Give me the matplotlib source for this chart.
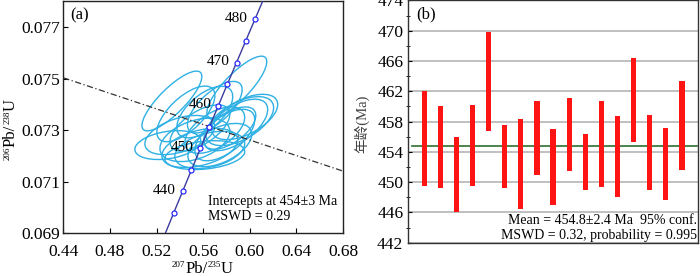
import numpy as np
import matplotlib
matplotlib.use('Agg')
import matplotlib.pyplot as plt
from matplotlib.patches import Ellipse
import matplotlib.transforms as transforms
from matplotlib.ticker import MultipleLocator

plt.rcParams['font.family'] = ['Liberation Serif', 'Noto Sans CJK SC']
plt.rcParams['mathtext.fontset'] = 'custom'
plt.rcParams['mathtext.rm'] = 'Liberation Serif'

# ---------------- data: panel (a) ----------------
lambda238 = 1.55125e-10
lambda235 = 9.8485e-10
concordia_age_range = (425, 495)          # Ma
marker_ages = [435, 440, 445, 450, 455, 460, 465, 470, 475, 480]
label_ages = [440, 450, 460, 470, 480]

discordia_x = [0.44, 0.68]
discordia_y = [0.07504, 0.07142]

ell_x = [0.5332, 0.5889, 0.5957, 0.5914, 0.5880, 0.5452, 0.5614, 0.5400, 0.5297,
         0.5529, 0.5572, 0.5657, 0.5743, 0.5700, 0.5786, 0.5572, 0.5829, 0.5614, 0.5700]
ell_y = [0.07414, 0.07468, 0.07352, 0.07336, 0.07321, 0.07364, 0.07371, 0.07282, 0.07243,
         0.07263, 0.07232, 0.07224, 0.07243, 0.07301, 0.07282, 0.07309, 0.07309, 0.07204, 0.07390]
ell_sx = [0.0257, 0.0257, 0.0283, 0.0291, 0.0274, 0.0249, 0.0240, 0.0300, 0.0283,
          0.0300, 0.0326, 0.0300, 0.0274, 0.0257, 0.0257, 0.0257, 0.0223, 0.0343, 0.0235]
ell_sy = [0.00116, 0.00120, 0.00088, 0.00095, 0.00100, 0.00108, 0.00100, 0.00076, 0.00056,
          0.00084, 0.00076, 0.00072, 0.00084, 0.00090, 0.00100, 0.00090, 0.00082, 0.00056, 0.00100]
ell_rho = [0.82, 0.82, 0.55, 0.55, 0.60, 0.66, 0.60, 0.45, 0.30,
           0.40, 0.40, 0.35, 0.50, 0.55, 0.60, 0.60, 0.60, 0.25, 0.68]

xticks_a = [0.44, 0.48, 0.52, 0.56, 0.60, 0.64, 0.68]
yticks_a = [0.069, 0.071, 0.073, 0.075, 0.077]

# ---------------- data: panel (b) ----------------
bar_low = [449.5, 449.2, 446.0, 449.5, 456.8, 449.2, 446.4, 451.0, 447.0,
           451.5, 449.0, 449.3, 448.0, 455.3, 449.0, 447.6, 451.6]
bar_high = [462.0, 460.1, 455.9, 460.2, 469.8, 457.5, 458.3, 460.7, 457.0,
            461.1, 456.4, 460.7, 458.7, 466.4, 458.9, 457.2, 463.3]
mean_age = 454.8
yticks_b = [442, 446, 450, 454, 458, 462, 466, 470, 474]

# ---------------- figure ----------------
fig = plt.figure(figsize=(7, 2.76), dpi=100)
ax1 = fig.add_axes([0.0904, 0.154, 0.3996, 0.8406])
ax2 = fig.add_axes([0.5829, 0.1207, 0.4143, 0.8775])

# ----- panel (a) -----
ell_color = '#2fb0e4'
for cx, cy, sx, sy, r in zip(ell_x, ell_y, ell_sx, ell_sy, ell_rho):
    e = Ellipse((0, 0), width=2 * np.sqrt(1 + r), height=2 * np.sqrt(1 - r),
                facecolor='none', edgecolor=ell_color, linewidth=1.0, zorder=2)
    tr = transforms.Affine2D().rotate_deg(45).scale(sx, sy).translate(cx, cy)
    e.set_transform(tr + ax1.transData)
    ax1.add_patch(e)

t = np.linspace(concordia_age_range[0], concordia_age_range[1], 300) * 1e6
ax1.plot(np.exp(lambda235 * t) - 1, np.exp(lambda238 * t) - 1,
         color='#3b3b9e', lw=1.0, zorder=3)
tm = np.array(marker_ages) * 1e6
ax1.plot(np.exp(lambda235 * tm) - 1, np.exp(lambda238 * tm) - 1, 'o', ms=3.6,
         mfc='white', mec='#2a2aff', mew=0.9, zorder=4)
for a in label_ages:
    ta = a * 1e6
    ax1.annotate(str(a), (np.exp(lambda235 * ta) - 1, np.exp(lambda238 * ta) - 1),
                 xytext=(-7, 1), textcoords='offset pixels', ha='right', va='center',
                 fontsize=11, zorder=5)

ax1.plot(discordia_x, discordia_y, color='#333333', lw=0.9,
         dashes=(5, 2, 1, 2), zorder=3)

ax1.set_xlim(0.44, 0.68)
ax1.set_ylim(0.069, 0.078)
ax1.set_xticks(xticks_a)
ax1.set_xticklabels([f'{v:.2f}' for v in xticks_a])
ax1.set_yticks(yticks_a)
ax1.set_yticklabels([f'{v:.3f}' for v in yticks_a])
ax1.tick_params(direction='in', length=3.5, labelsize=12.5, width=0.8)
ax1.tick_params(axis='x', pad=7.5)
ax1.tick_params(axis='y', pad=2.5)
for s in ax1.spines.values():
    s.set_linewidth(1.0)
    s.set_color('#222222')

# x label: superscript pieces chained
SUP, MAIN = 6.5, 12
xb_main, xb_sup = -0.1724, -0.1444
p = ax1.text(0.3876, xb_sup, '207', fontsize=SUP, transform=ax1.transAxes,
             ha='left', va='baseline')
p = ax1.annotate('Pb/', xy=(1, xb_main), xycoords=(p, ax1.transAxes), fontsize=MAIN,
                 ha='left', va='baseline')
p = ax1.annotate('235', xy=(1, xb_sup), xycoords=(p, ax1.transAxes), fontsize=SUP,
                 ha='left', va='baseline')
p = ax1.annotate('U', xy=(1, xb_main), xycoords=(p, ax1.transAxes), fontsize=MAIN,
                 ha='left', va='baseline')

# y label: rotated pieces chained upward
yb_main, yb_sup = -0.1727, -0.1906
q = ax1.text(yb_sup, 0.3168, '206', fontsize=SUP, transform=ax1.transAxes,
             rotation=90, rotation_mode='anchor', ha='left', va='baseline')
q = ax1.annotate('Pb/', xy=(yb_main, 1), xycoords=(ax1.transAxes, q), fontsize=MAIN,
                 rotation=90, rotation_mode='anchor', ha='left', va='baseline')
q = ax1.annotate('238', xy=(yb_sup, 1), xycoords=(ax1.transAxes, q), fontsize=SUP,
                 rotation=90, rotation_mode='anchor', ha='left', va='baseline')
q = ax1.annotate('U', xy=(yb_main, 1), xycoords=(ax1.transAxes, q), fontsize=MAIN,
                 rotation=90, rotation_mode='anchor', ha='left', va='baseline')

ax1.text(0.026, 0.942, '(a)', transform=ax1.transAxes, fontsize=12, va='center', ha='left')
ax1.text(0.517, 0.137, 'Intercepts at 454±3 Ma', transform=ax1.transAxes,
         fontsize=10, va='center', ha='left')
ax1.text(0.517, 0.072, 'MSWD = 0.29', transform=ax1.transAxes,
         fontsize=10, va='center', ha='left')

# ----- panel (b) -----
xpos = np.arange(1, len(bar_low) + 1)
heights = np.array(bar_high) - np.array(bar_low)
ax2.set_xlim(0, len(bar_low) + 1)
ax2.set_ylim(442, 474)
ax2.set_yticks(yticks_b)
ax2.yaxis.set_minor_locator(MultipleLocator(2))
ax2.grid(axis='y', which='major', color='#b5b5b5', lw=1.2, zorder=0)
ax2.set_axisbelow(True)
ax2.axhline(mean_age, xmin=0.012, xmax=0.995, color='#2e6e2e', lw=1.2, zorder=2)
ax2.bar(xpos, heights, bottom=bar_low, width=0.32, color='#ff1414',
        edgecolor='none', zorder=3)
ax2.set_xticks([])
ax2.tick_params(axis='y', which='major', direction='in', length=3, labelsize=12.5,
                width=0.8, pad=3.4)
ax2.tick_params(axis='y', which='minor', direction='inout', length=3, width=0.6)
ax2.text(-0.159, 0.49, '年龄(Ma)', fontsize=10.5, color='#444444', rotation=90,
         ha='center', va='center', transform=ax2.transAxes)
for s in ax2.spines.values():
    s.set_linewidth(1.0)
    s.set_color('#333333')
ax2.text(0.028, 0.944, '(b)', transform=ax2.transAxes, fontsize=12, va='center', ha='left')
ax2.text(0.997, 0.091, 'Mean = 454.8±2.4 Ma  95% conf.', transform=ax2.transAxes,
         fontsize=10, va='center', ha='right')
ax2.text(0.997, 0.028, 'MSWD = 0.32, probability = 0.995', transform=ax2.transAxes,
         fontsize=10, va='center', ha='right')

fig.savefig('out.png', dpi=100)
